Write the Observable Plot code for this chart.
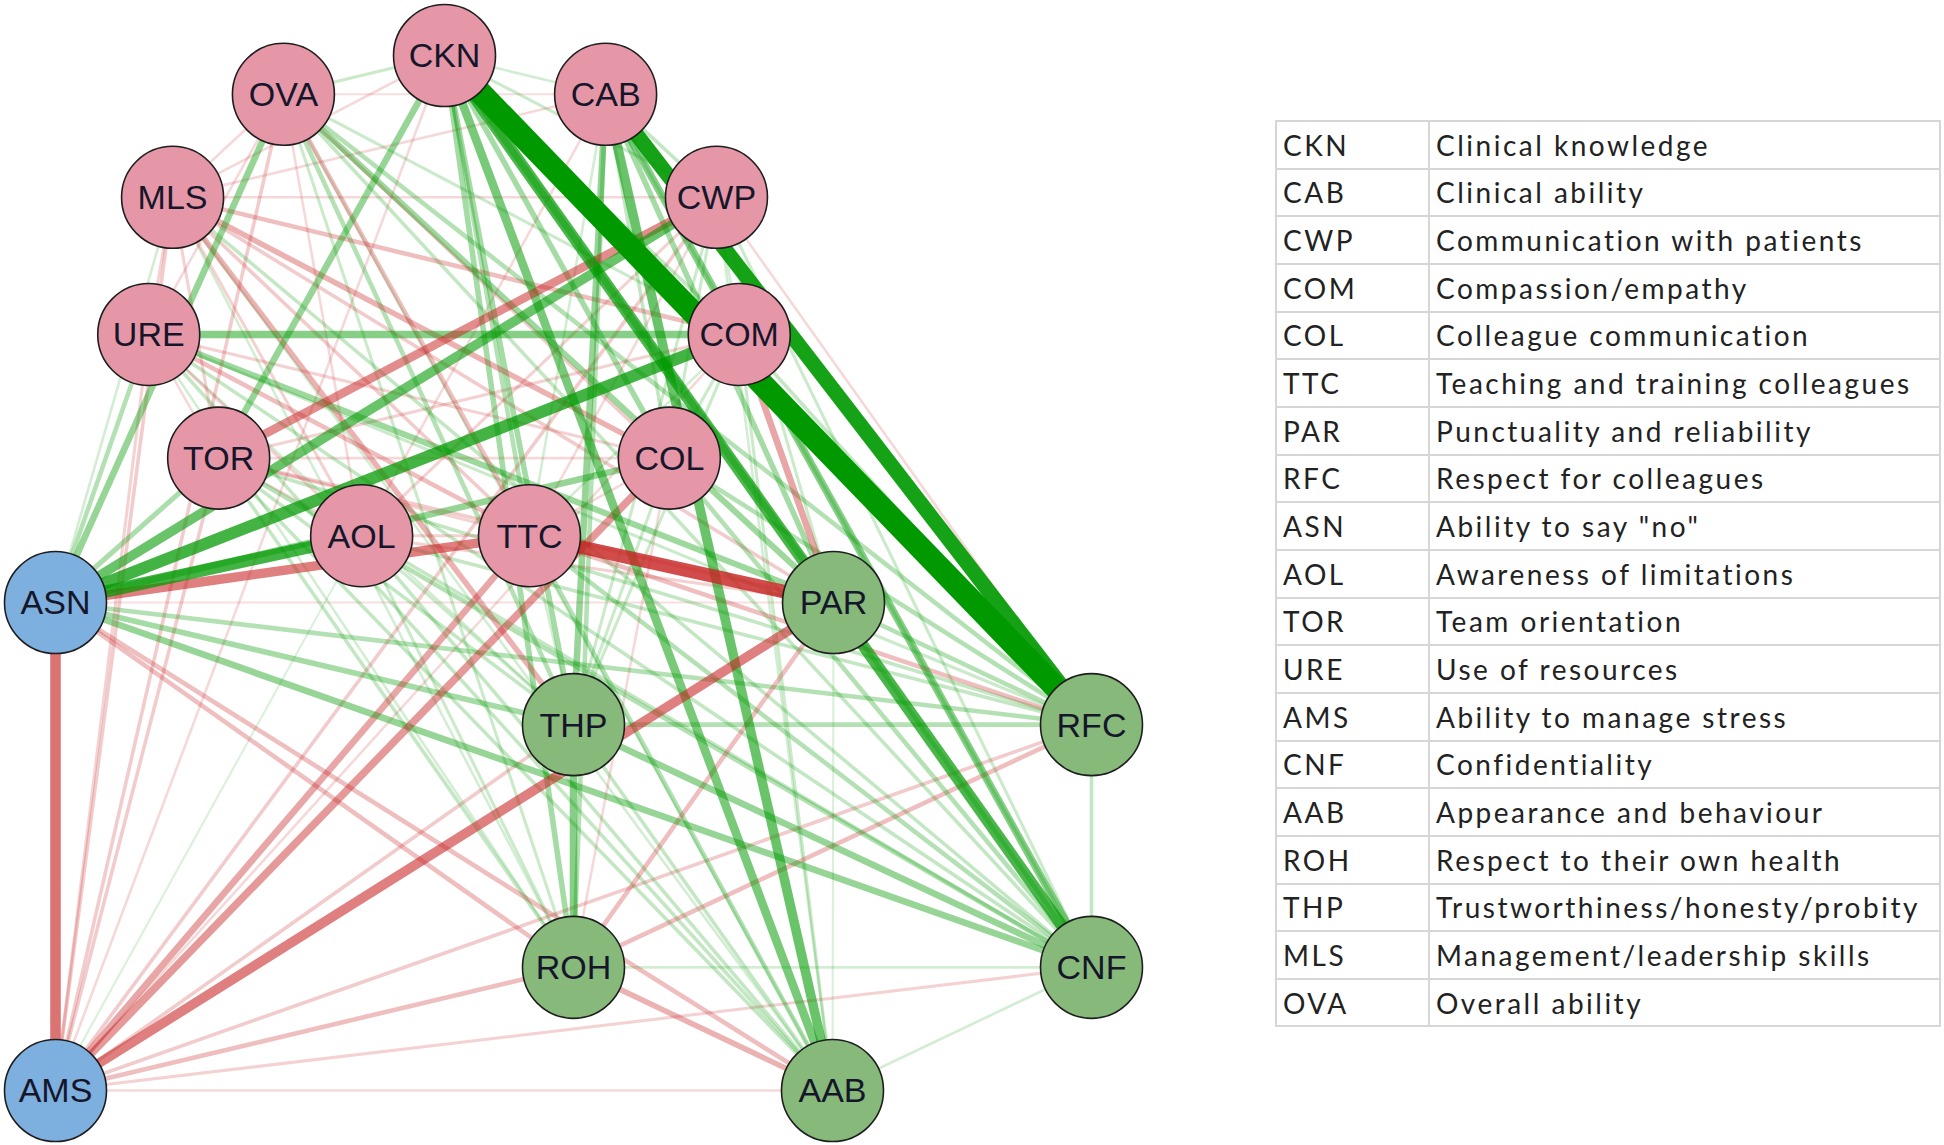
<!DOCTYPE html>
<html>
<head>
<meta charset="utf-8">
<script src="https://cdn.jsdelivr.net/npm/d3@7"></script>
<script src="https://cdn.jsdelivr.net/npm/@observablehq/plot@0.6"></script>
<style>
  html, body { margin: 0; padding: 0; background: #ffffff; }
  #page { position: relative; width: 1944px; height: 1145px; overflow: hidden; background: #fff; }
  #graph { position: absolute; left: 0; top: 0; }
  #legend { position: absolute; left: 1275px; top: 120px; }
  #legend table { border-collapse: collapse; font-family: Lato, "Open Sans", sans-serif; font-size: 28px; letter-spacing: 2.5px; color: #222; }
  #legend td { border: 2px solid #d6d6d6; height: 45.66px; padding: 0 6px; line-height: 1; white-space: nowrap; }
  #legend td.code { width: 139px; }
  #legend td.name { width: 497px; }
</style>
</head>
<body>
<div id="page">
  <div id="graph"></div>
  <div id="legend"></div>
</div>
<script>
// ---- nodes (layout coordinates, qgraph-style in [-1, 1]) ----
const nodeIds    = ["CKN","OVA","CAB","MLS","CWP","URE","COM","TOR","COL","AOL","TTC","ASN","PAR","THP","RFC","ROH","CNF","AMS","AAB"];
const nodeX      = [-0.249,-0.56,0.062,-0.774,0.276,-0.82,0.32,-0.685,0.185,-0.409,-0.085,-1,0.502,0,1,0,1,-1,0.5];
const nodeY      = [1,0.925,0.925,0.726,0.726,0.461,0.461,0.222,0.222,0.072,0.072,-0.057,-0.057,-0.293,-0.293,-0.762,-0.762,-1,-1];
const nodeGroup  = ["g1","g1","g1","g1","g1","g1","g1","g1","g1","g1","g1","g2","g3","g3","g3","g3","g3","g2","g3"];

// ---- edges: [from, to, partial correlation] ----
const edges = [
 ["CKN","RFC",0.45],["CAB","RFC",0.29],["CKN","CNF",0.22],["CAB","AAB",0.18],["CKN","AAB",0.16],
 ["CAB","CNF",0.14],["ASN","COM",0.23],["ASN","AOL",0.23],["ASN","CWP",0.18],["TTC","PAR",-0.26],
 ["ASN","AMS",-0.20],["AMS","PAR",-0.18],["ASN","TTC",-0.18],["TOR","CWP",-0.16],["AMS","COL",-0.14],
 ["AMS","TTC",-0.12],["COM","PAR",-0.12],["URE","COM",0.14],["THP","ROH",0.14],["CKN","TOR",0.12],
 ["ASN","OVA",0.12],["CAB","THP",0.12],["CKN","PAR",0.12],["CKN","THP",0.10],["CKN","ROH",0.10],
 ["THP","CNF",0.12],["ASN","CNF",0.12],["ASN","THP",0.10],["ASN","COL",0.12],["OVA","PAR",0.11],
 ["OVA","RFC",0.08],["URE","PAR",0.11],["MLS","THP",-0.10],["MLS","COL",-0.10],["ROH","AAB",-0.10],
 ["CAB","PAR",0.10],["CKN","COL",0.10],["CKN","TTC",0.08],["CAB","ROH",0.08],["CAB","COL",0.06],
 ["OVA","THP",0.08],["OVA","TTC",-0.08],["URE","TTC",-0.08],["MLS","COM",-0.08],["MLS","PAR",-0.06],
 ["ASN","ROH",-0.08],["ASN","AAB",-0.08],["ASN","RFC",0.08],["ASN","URE",0.08],["ASN","TOR",0.09],
 ["ASN","MLS",0.04],["ASN","PAR",-0.03],["AMS","ROH",-0.08],["AMS","THP",-0.06],["AMS","RFC",-0.06],
 ["AMS","CNF",-0.05],["AMS","AAB",-0.04],["AMS","MLS",-0.06],["AMS","URE",-0.05],["AMS","OVA",-0.06],
 ["AMS","TOR",-0.06],["AMS","CWP",-0.06],["AMS","AOL",0.03],["AMS","CKN",-0.04],["AMS","COM",-0.04],
 ["TTC","RFC",-0.08],["ROH","RFC",-0.08],["THP","RFC",0.08],["RFC","CNF",0.06],["ROH","CNF",0.04],
 ["CNF","AAB",0.04],["CWP","RFC",-0.04],["MLS","CNF",0.06],["OVA","CNF",0.06],["TOR","AAB",0.06],
 ["AOL","AAB",0.06],["URE","AAB",0.06],["MLS","AAB",0.04],["THP","AAB",0.06],["TTC","AAB",0.08],
 ["OVA","AAB",0.04],["TTC","CNF",0.08],["AOL","CNF",0.06],["TOR","CNF",0.08],["URE","CNF",0.06],
 ["COL","CNF",0.08],["COM","CNF",0.06],["PAR","CNF",0.08],["PAR","RFC",0.08],["COL","RFC",0.08],
 ["COM","RFC",0.06],["TOR","RFC",0.06],["AOL","RFC",0.06],["URE","RFC",0.05],["PAR","ROH",-0.08],
 ["PAR","AAB",0.03],["TOR","ROH",0.06],["AOL","ROH",0.05],["OVA","ROH",0.05],["URE","ROH",0.04],
 ["MLS","ROH",0.04],["TOR","THP",0.06],["AOL","THP",0.05],["URE","THP",0.04],["CKN","OVA",0.05],
 ["CKN","CAB",0.04],["OVA","CAB",-0.03],["OVA","MLS",-0.04],["OVA","URE",-0.04],["MLS","URE",-0.05],
 ["URE","TOR",-0.04],["MLS","TOR",-0.05],["TOR","AOL",-0.04],["AOL","TTC",-0.05],["TTC","COL",-0.04],
 ["COL","COM",0.05],["COM","CWP",0.04],["CWP","CAB",0.06],["MLS","CWP",-0.04],["OVA","COM",0.05],
 ["OVA","COL",-0.06],["CKN","COM",0.06],["CKN","CWP",0.05],["CAB","COM",0.05],["CAB","TTC",0.04],
 ["CWP","COL",0.05],["CWP","TTC",-0.04],["COM","TTC",0.04],["MLS","AOL",-0.05],["MLS","TTC",-0.06],
 ["URE","AOL",-0.05],["URE","COL",-0.05],["TOR","COL",-0.04],["TOR","TTC",-0.05],["OVA","AOL",-0.04],
 ["CAB","AOL",-0.04],["CWP","AOL",-0.05],["COM","TOR",-0.05],["CAB","MLS",-0.04],["CKN","MLS",-0.04],
 ["TOR","PAR",-0.06],["AOL","PAR",-0.05],["COL","THP",0.05],["COM","THP",0.05],["CWP","THP",0.05],
 ["CWP","CNF",0.05],["CWP","AAB",0.04],["COM","AAB",0.05],["COL","ROH",-0.04],["TTC","THP",0.04],
 ["CWP","PAR",0.05]
];

// ---- legend table ----
const legendCodes = ["CKN","CAB","CWP","COM","COL","TTC","PAR","RFC","ASN","AOL","TOR","URE","AMS","CNF","AAB","ROH","THP","MLS","OVA"];
const legendNames = ["Clinical knowledge","Clinical ability","Communication with patients","Compassion/empathy","Colleague communication","Teaching and training colleagues","Punctuality and reliability","Respect for colleagues","Ability to say \"no\"","Awareness of limitations","Team orientation","Use of resources","Ability to manage stress","Confidentiality","Appearance and behaviour","Respect to their own health","Trustworthiness/honesty/probity","Management/leadership skills","Overall ability"];

// build tables for the library
const nodes = nodeIds.map((id, i) => ({id, x: nodeX[i], y: nodeY[i], group: nodeGroup[i]}));
const byId = new Map(nodes.map(d => [d.id, d]));
const links = d3.sort(edges.map(([a, b, w]) => ({
  a, b, w,
  x1: byId.get(a).x, y1: byId.get(a).y,
  x2: byId.get(b).x, y2: byId.get(b).y,
  sign: w > 0 ? "pos" : "neg",
  aw: Math.abs(w)
})), d => d.aw);

const maxW = d3.max(links, d => d.aw);
const widthScale = d3.scaleLinear([0, maxW], [0.6, 23]);
const fadeScale = d3.scaleLinear([0, 0.32], [0.06, 1]).clamp(true);

const chart = Plot.plot({
  width: 1200,
  height: 1145,
  marginLeft: 55,
  marginRight: 109,
  marginTop: 55,
  marginBottom: 55,
  style: {background: "transparent"},
  x: {domain: [-1, 1], axis: null},
  y: {domain: [-1, 1], axis: null},
  color: {
    type: "ordinal",
    domain: ["pos", "neg", "g1", "g2", "g3"],
    range: ["#009900", "#C82626", "#E597A7", "#7DAFDF", "#86B97A"]
  },
  marks: [
    Plot.link(links, {
      x1: "x1", y1: "y1", x2: "x2", y2: "y2",
      stroke: "sign",
      strokeOpacity: d => fadeScale(d.aw),
      strokeWidth: d => widthScale(d.aw),
      strokeLinecap: "butt"
    }),
    Plot.dot(nodes, {x: "x", y: "y", r: 51, fill: "group", stroke: "#1e1e1e", strokeWidth: 1.6}),
    Plot.text(nodes, {
      x: "x", y: "y", text: "id",
      fontSize: 34,
      fill: "#16162a",
      fontFamily: "'Liberation Sans', Arial, sans-serif",
      dy: 1
    })
  ]
});
document.getElementById("graph").appendChild(chart);

// legend as an HTML table
const table = d3.select("#legend").append("table");
const rows = table.selectAll("tr").data(legendCodes.map((c, i) => [c, legendNames[i]])).join("tr");
rows.append("td").attr("class", "code").text(d => d[0]);
rows.append("td").attr("class", "name").text(d => d[1]);
</script>
</body>
</html>
